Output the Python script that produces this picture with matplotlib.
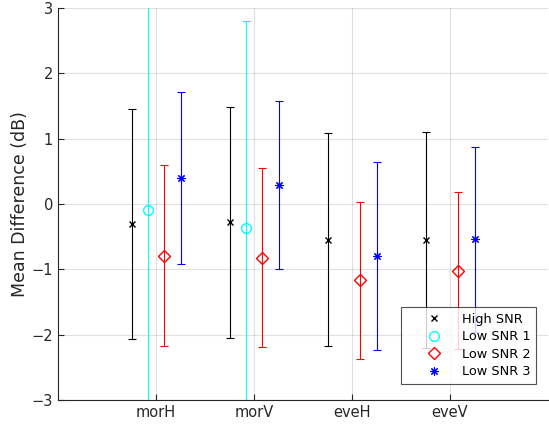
import numpy as np
import matplotlib.pyplot as plt
from matplotlib.lines import Line2D

# condition labels on the x axis
conds = ["morH", "morV", "eveH", "eveV"]

# mean difference (dB) and half-width of the error bar, per SNR group
high_mean = [-0.31, -0.28, -0.55, -0.55]
high_err = [1.76, 1.77, 1.63, 1.65]

low1_mean = [-0.09, -0.37, np.nan, np.nan]
low1_err = [4.0, 3.17, np.nan, np.nan]

low2_mean = [-0.79, -0.82, -1.17, -1.02]
low2_err = [1.38, 1.37, 1.20, 1.20]

low3_mean = [0.40, 0.29, -0.80, -0.54]
low3_err = [1.32, 1.28, 1.44, 1.42]

labels = ["High SNR", "Low SNR 1", "Low SNR 2", "Low SNR 3"]

fig = plt.figure(figsize=(5.49, 4.28), dpi=100)
ax = fig.add_axes([58 / 549, 28 / 428, 490 / 549, 392 / 428])

x = np.arange(1, len(conds) + 1)
groups = [
    (high_mean, high_err, "k", "x", 5, 1.0, -0.25),
    (low1_mean, low1_err, (0, 1, 1), "o", 7, 1.0, -0.085),
    (low2_mean, low2_err, (1, 0, 0), "D", 6.5, 1.0, 0.085),
    (low3_mean, low3_err, (0, 0, 1), (8, 2, 0), 6, 0.8, 0.25),
]

handles = []
for (m, e, col, mk, ms, mew, off), lab in zip(groups, labels):
    ax.errorbar(x + off, m, yerr=e, fmt="none", ecolor=col, elinewidth=0.8,
                capsize=2.6, capthick=0.8)
    ax.plot(x + off, m, linestyle="none", marker=mk, markersize=ms,
            markerfacecolor="none", markeredgecolor=col, markeredgewidth=mew)
    handles.append(Line2D([], [], linestyle="none", marker=mk, markersize=ms,
                          markerfacecolor="none", markeredgecolor=col,
                          markeredgewidth=mew, label=lab))

ax.set_xlim(0, 5)
ax.set_ylim(-3, 3)
ax.set_xticks(x)
ax.set_xticklabels(conds)
ax.set_yticks(np.arange(-3, 4, 1))
ax.set_ylabel("Mean Difference (dB)", fontsize=12.5, color="#262626", labelpad=2)

ax.grid(True, color="#000000", alpha=0.12, linewidth=0.8)
ax.set_axisbelow(True)
for s in ["top", "right"]:
    ax.spines[s].set_visible(False)
for s in ["left", "bottom"]:
    ax.spines[s].set_color("#262626")
    ax.spines[s].set_linewidth(0.8)
ax.tick_params(direction="in", length=4, width=0.8, colors="#262626",
               labelsize=10.5, labelcolor="#262626")

leg = ax.legend(handles=handles, loc="lower right", bbox_to_anchor=(0.9755, 0.041),
                fontsize=9.3, frameon=True, fancybox=False, borderpad=0.45,
                labelspacing=0.35, handlelength=4.1, handletextpad=0.1,
                borderaxespad=0)
leg.get_frame().set_edgecolor("#262626")
leg.get_frame().set_linewidth(0.8)

fig.savefig("out.png", dpi=100)
